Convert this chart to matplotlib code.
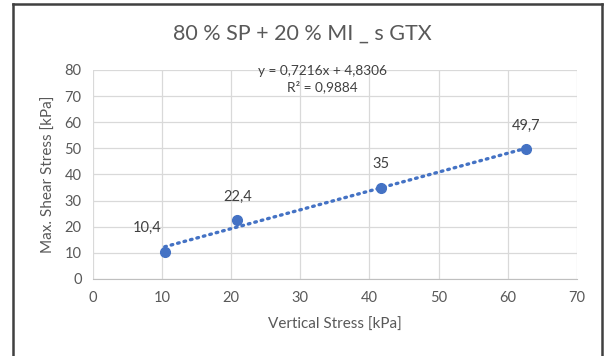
import matplotlib.pyplot as plt
import numpy as np

# data
vertical_stress = [10.4, 20.9, 41.7, 62.6]
shear_stress = [10.4, 22.4, 35.0, 49.7]
point_labels = ['10,4', '22,4', '35', '49,7']
slope = 0.7216
intercept = 4.8306
r2 = 0.9884

title = '80 % SP + 20 % MI _ s GTX'
xticks = [0, 10, 20, 30, 40, 50, 60, 70]
yticks = [0, 10, 20, 30, 40, 50, 60, 70, 80]

blue = '#4472C4'
grey_text = '#595959'

plt.rcParams['font.family'] = ['Lato', 'DejaVu Sans']

fig = plt.figure(figsize=(6.05, 3.56), dpi=100)
ax = fig.add_axes([0.1534, 0.2163, 0.80, 0.5871])

ax.set_xlim(0, 70)
ax.set_ylim(0, 80)
ax.set_xticks(xticks)
ax.set_yticks(yticks)
ax.grid(True, color='#D9D9D9', linewidth=0.9)
ax.set_axisbelow(True)
for s in ['top', 'right', 'left']:
    ax.spines[s].set_visible(False)
ax.spines['bottom'].set_color('#BFBFBF')
ax.tick_params(length=0, colors=grey_text, labelsize=10.5, pad=9)
ax.tick_params(axis='y', pad=8)

# trendline
xt = np.array([vertical_stress[0], vertical_stress[-1]])
ax.plot(xt, slope * xt + intercept, color=blue, linewidth=2.4,
        linestyle=(0, (0.5, 1.5)), dash_capstyle='round', zorder=2)

ax.plot(vertical_stress, shear_stress, 'o', color=blue, markersize=7, zorder=3)

for i, (x, y, lab) in enumerate(zip(vertical_stress, shear_stress, point_labels)):
    dx = -13 if i == 0 else 0
    ax.annotate(lab, (x, y), xytext=(dx, 12), textcoords='offset points',
                ha='center', va='bottom', fontsize=10.5, color='#404040')

ax.text(33.2, 76.7, 'y = %sx + %s\nR² = %s' % ('0,7216', '4,8306', '0,9884'),
        ha='center', va='center', fontsize=9.8, color='#404040', linespacing=1.3)

ax.set_xlabel('Vertical Stress [kPa]', fontsize=11, color=grey_text, labelpad=9)
ax.set_ylabel('Max. Shear Stress [kPa]', fontsize=11, color=grey_text, labelpad=6)
fig.text(0.5, 0.905, title, ha='center', va='center', fontsize=15.5, color=grey_text)

# outer frame (no bottom edge visible)
fig.add_artist(plt.Line2D([0.021, 0.021], [0, 0.99], color='#404040', linewidth=1.8, transform=fig.transFigure))
fig.add_artist(plt.Line2D([0.021, 0.995], [0.99, 0.99], color='#404040', linewidth=1.8, transform=fig.transFigure))
fig.add_artist(plt.Line2D([0.995, 0.995], [0, 0.99], color='#404040', linewidth=1.8, transform=fig.transFigure))

fig.savefig('out.png', dpi=100)
